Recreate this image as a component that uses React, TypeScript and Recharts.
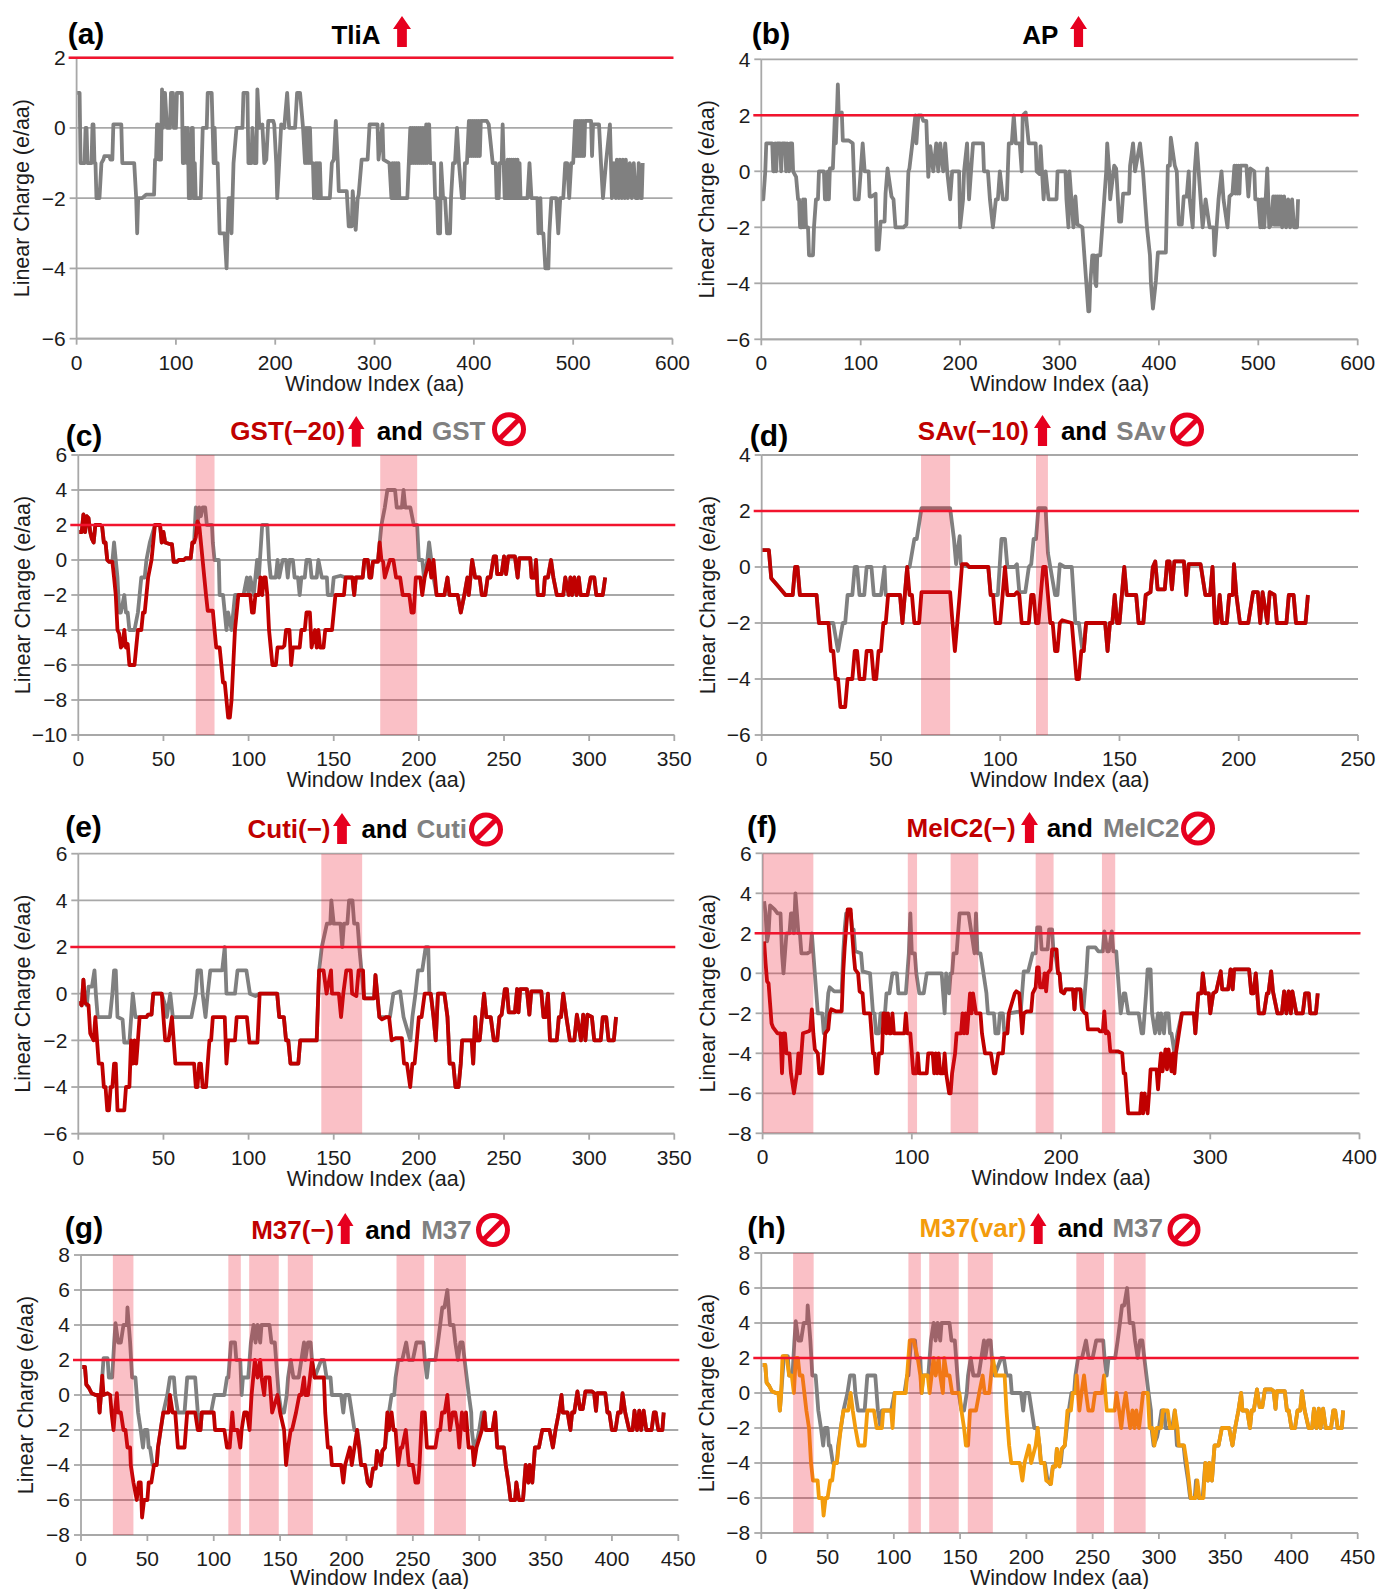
import React from 'react';
import { LineChart, Line, XAxis, YAxis, CartesianGrid, ReferenceLine, ReferenceArea } from 'recharts';

// Vertices: flat lists of x, y, x, y ...
const tliaValues = [0,1, 3,1, 4,-1, 8,-1, 9,0, 10,0, 11,-1, 15,-1, 16,0.1, 17,0.1, 18,-1, 19,-1, 20,-2, 23,-2, 25,-1, 27,-0.9, 28,-0.8, 33,-0.8, 34,-0.9, 36,-0.9, 37,0.1, 45,0.1, 46,-1, 58,-1, 60,-2, 61,-3, 62,-2, 66,-2, 70,-1.9, 78,-1.9, 79,-0.9, 80,-0.9, 81,0.1, 82,0.1, 83,-0.9, 85,-0.9, 86,1.1, 87,0, 88,1, 89,1, 91,0, 94,0, 95,1, 97,1, 98,0, 100,0, 101,1, 106,1, 107,-1, 108,-1, 109,0, 110,0, 111,-1, 112,0, 113,-2, 115,-2, 116,0, 117,0, 118,-2, 119,-1, 120,-2, 125,-2, 127,0, 131,0, 132,1, 136,1, 137,0, 138,-1, 139,0, 140,-1, 142,-1, 144,-3, 149,-3, 151,-4, 152,-3, 153,-2, 155,-2, 156,-3, 158,-1, 161,0, 167,0, 168,1, 172,1, 173,-1, 176,-1, 177,0, 179,-1, 181,-1, 182,1.1, 184,0, 187,0.1, 189,-1, 191,-0.9, 193,0.2, 198,0.2, 199,0.1, 201,-1, 202,-2, 204,-1, 206,0.1, 209,0, 212,1, 214,0, 220,0, 222,1, 225,1, 228,0, 230,-1, 231,0, 232,-1, 233,0, 234,-1, 235,0, 236,-1, 238,-1, 239,-2, 241,-1, 242,-2, 243,-1, 244,-2, 245,-1, 246,-2, 255,-2, 257,-1, 259,-0.9, 261,0.2, 263,-1, 264,-1.8, 272,-1.8, 274,-2.8, 277,-2.8, 278,-1.8, 281,-2.9, 283,-2, 284,-1.9, 287,-0.9, 293,-0.9, 295,0.1, 303,0.1, 304,-0.9, 308,0.1, 309,-0.9, 315,-1, 317,-2, 318,-1, 319,-2, 320,-1, 321,-2, 322,-1, 323,-2, 324,-1, 325,-2, 333,-2, 336,0, 337,-1, 338,0, 339,-1, 340,0, 341,-1, 342,0, 343,-1, 344,0, 345,-1, 346,0, 347,-1, 348,0, 349,-1, 350,0, 351,-1, 352,0.1, 353,-1, 354,0.1, 355,0.1, 356,-1, 360,-1, 361,-2, 363,-2, 364,-3, 366,-3, 367,-1, 369,-2, 371,-2, 373,-3, 376,-3, 377,-2, 379,-1, 381,-1, 383,0, 385,-1, 388,-2, 390,-2, 391,-1, 393,-1, 395,0.2, 396,-0.8, 397,0.2, 398,-0.8, 399,0.2, 400,-0.8, 401,0.2, 402,-0.8, 403,0.2, 404,-0.8, 405,0.2, 406,-0.8, 407,0.2, 413,0.2, 415,0.1, 419,-1, 422,-1, 423,-2, 425,-2, 426,-1, 428,-1, 429,0.1, 431,-2, 432,-1, 433,-2, 434,-0.9, 435,-2, 436,-0.9, 437,-2, 438,-0.9, 439,-2, 440,-0.9, 441,-2, 442,-0.9, 443,-2, 444,-0.9, 445,-2, 446,-1, 447,-2, 454,-2, 456,-1, 458,-2, 464,-2, 465,-3, 467,-2, 468,-3, 470,-3, 472,-4, 475,-4, 476,-3, 478,-2, 483,-2, 485,-3, 487,-2, 490,-2, 492,-1, 494,-1, 496,-2, 498,-1, 500,-1, 502,0.2, 503,-0.8, 504,0.2, 505,-0.8, 506,0.2, 507,-0.8, 508,0.2, 509,-0.8, 510,0.2, 511,-0.8, 512,0.2, 518,0.2, 519,-0.8, 520,0.1, 526,0.1, 528,-1, 530,-2, 533,-1, 537,0.1, 539,-2, 541,-1, 543,-2, 544,-0.9, 546,-2, 547,-0.9, 549,-2, 550,-0.9, 552,-2, 553,-0.9, 555,-2, 557,-1, 559,-2, 561,-1, 563,-2, 565,-2, 566,-1, 568,-2, 569,-2, 570,-1];

const apValues = [0,-1, 2,-1, 4,0, 5,1, 11,1, 12,0, 13,0, 14,1, 15,0, 16,1, 19,1, 20,0, 21,1, 24,1, 25,0, 26,1, 28,0, 29,1, 31,1, 32,0, 35,-0.2, 37,-1, 38,-1, 39,-2, 41,-2, 42,-1, 43,-2, 44,-1, 45,-2, 47,-2, 48,-3, 52,-3, 53,-2, 55,-1, 57,-1, 58,0, 63,0, 64,-1, 66,-1, 67,0, 68,-1, 69,0.1, 72,0.1, 73,1, 74,2, 75,1, 76,2, 77,3.1, 78,2, 81,2.1, 82,1.1, 88,1.1, 92,1, 93,0, 94,-1, 98,-1, 100,0, 101,0.5, 102,1, 104,0, 108,0, 109,-0.9, 111,-0.9, 115,-0.8, 116,-2.8, 118,-2.8, 120,-1.8, 124,-1.8, 125,-0.8, 127,0.1, 131,-0.9, 133,-1, 135,-2, 143,-2, 146,-1.9, 148,0, 149,0.1, 152,1, 155,2, 156,1, 158,2, 161,2, 163,1.8, 166,1.8, 167,0.8, 168,-0.2, 170,0.9, 173,0, 176,1, 178,0, 180,1, 183,0, 185,1, 187,0, 190,-1, 192,0, 199,0, 200,-2, 203,-1, 204,0, 207,1, 209,-1, 211,0, 213,1, 223,1, 224,0, 228,0, 230,-1, 233,-2, 236,-1, 238,-1, 240,0, 243,-1, 247,-1, 249,1, 252,1, 254,2, 256,1, 260,1, 262,0, 263,2, 266,2.1, 269,1, 276,1, 277,0, 280,-0.1, 281,0.9, 284,-1, 286,0, 289,-1, 297,-1, 298,0, 306,0, 307,-1, 309,-2, 310,0, 312,-1, 314,-2, 316,-0.9, 318,-1.9, 323,-2, 325,-3, 327,-4, 329,-5, 330,-5, 331,-4, 333,-3, 335,-3, 336,-4, 337,-4.1, 338,-3, 341,-3, 343,-2, 345,-1, 347,0, 348,1, 350,0, 351,-1, 355,0.2, 357,0.1, 360,-1.8, 362,-1.8, 364,-0.8, 370,-0.8, 371,0.2, 374,1, 376,0, 381,1, 384,0, 386,-1, 388,-2, 391,-3, 392,-4, 394,-4.9, 397,-3.9, 399,-2.9, 407,-2.9, 409,0.2, 411,0.2, 412,1.2, 416,0.2, 418,0, 419,-1, 420,-1.9, 423,-1.9, 425,-0.9, 428,-0.9, 430,0, 431,-1, 434,-2, 436,0, 438,1, 440,0, 442,-1, 444,-2, 447,-1, 451,-2, 455,-2, 456,-3, 458,-2, 460,-1, 463,0, 465,-1, 469,-2, 471,-0.9, 474,-0.8, 476,0.2, 477,-0.8, 478,0.2, 479,-0.8, 480,0.2, 481,-0.8, 482,0.2, 488,0.2, 490,-0.9, 492,0.1, 496,0, 497,-1, 500,-1, 502,-2, 503,-1, 504,-2, 505,-1, 506,-2, 509,0.1, 511,-2, 513,-1.9, 515,-0.9, 516,-1.9, 517,-0.9, 518,-1.9, 519,-0.9, 520,-1.9, 521,-0.9, 522,-1.9, 523,-0.9, 524,-2, 526,-0.9, 528,-2, 530,-1, 532,-2, 534,-1, 536,-2, 539,-2, 540,-1];

const gstHead = [0.5,1.6, 2,1.6, 3,2.6, 4,1.6, 5,2.5, 6,2.4, 7,1.6, 8,1.2, 9,1, 10,2, 13,2, 14,1.9, 15,1, 16,1, 17,0, 18,-0.1, 20,-0.1];
const gstTail = [210.4,-2, 215,-2, 216.8,-1, 218,-2, 222.8,-2, 224.6,-3, 226.7,-2, 228.5,-1, 229.3,-2, 231.3,0, 233,-1, 235.7,-1, 237,-2, 239,-2, 240.4,-1, 242,-1, 244,0.2, 245.3,0.2, 246,-0.8, 248.6,-0.8, 250,0.2, 251.2,-0.8, 252.5,0.2, 256.4,0.2, 258,-1, 259,0.1, 265.4,0.1, 266.2,-1, 268,-1, 268.8,0, 269.8,-2, 273.2,-2, 274,-1, 275.8,-1, 277.6,0, 279,-1, 281,-2, 284.8,-2, 286,-1, 288,-2, 289,-1, 290,-2, 291.3,-1, 292.6,-2, 293.9,-1, 295,-2, 299,-2, 300.9,-1, 303,-1, 304.2,-2, 308,-2, 309.4,-1];
const gst20Mid = [21,-1, 22,-2, 23,-4, 24,-4.2, 25,-5, 26,-4.9, 27,-4, 28,-5, 29,-4.8, 30,-6, 33,-6, 34,-5, 35,-4, 37,-4, 38,-3, 39,-3, 40,-2, 41,-1, 43,0, 44,1, 45,2, 48,2, 49,1, 50,1.6, 51,1, 54,0.9, 55,0.9, 56,-0.1, 58,-0.1, 59,0, 62,0, 63,0.1, 66,0.1, 67,1, 68,1, 69,1.3, 70,2.2, 71,2, 72,1, 73,0, 74,-1, 75,-2, 76,-2.9, 79,-2.9, 80,-4, 81,-5, 83,-5, 84,-6, 85,-7, 86,-7, 87,-8, 88,-9, 89,-9, 90,-8, 91,-6, 92,-4, 93,-3, 94,-2, 101,-2, 102,-3, 103,-3, 104,-2, 106,-2, 107,-1, 108,-2, 109,-1, 110,-1, 111,-2, 112,-4, 113,-5, 114,-6, 116,-6, 117,-5, 120,-5, 121,-4.9, 122,-4, 124,-4, 125,-6, 126,-5, 130,-5, 131,-4, 133,-4, 134,-3, 136,-3, 137,-5, 139,-4, 140,-5, 141,-4, 142,-5, 144,-5, 145,-4, 149,-4, 150,-3, 151,-2, 156,-2, 157,-1, 161,-1, 162,-2, 163,-1, 167,-1, 168,0, 170,0, 171,-1, 172,-1, 173,-0.1, 176,-0.1, 177,1, 178,0, 179,-0.1, 180,-1, 183,0, 185,0, 186.6,-1, 189,-1, 190.5,-2, 194.4,-2, 195.7,-3, 197,-3, 198.2,-1, 200.8,-1, 202,-2, 203.4,-1, 206,0, 207.3,-1, 208.6,0];
const gstMid = [21,1, 22,0, 23,-1, 24,-3, 25,-3, 27,-2, 28,-3, 29,-3, 30,-4, 33,-4, 35,-3, 36,-2, 37,-1, 39,-1, 40,0, 42,1, 45,2, 48,2, 49,1, 50,1.6, 51,1, 54,0.9, 55,0.9, 56,-0.1, 58,-0.1, 59,0, 62,0, 63,0.1, 66,0.1, 67,1, 68,1, 69,3, 70,2, 71,3, 72,2.5, 73,3, 74.5,3, 75.5,2, 78.5,2, 79,1, 80,0, 82.5,0, 83,-2, 85,-2, 86,-3, 87,-4, 88,-3, 90,-4, 91,-3, 92,-2, 97,-2, 99,-1, 100,-2, 101,-1, 103,-2, 105,0, 106,-1, 108,2, 111,2, 112,0, 113,-1, 116,-1, 117,0, 118,-1, 120,0, 122,0, 123,-1, 124,0, 126,0, 127,-1, 129,-1, 130,-2, 131,-1, 133,-1, 134,0, 136,0, 137,-1, 140,-1, 141,0, 143,-1, 146,-1, 146.5,-2, 149,-2, 150,-1, 154,-0.9, 157,-1, 161,-1, 162,-2, 163,-1, 167,-1, 168,0, 170,0, 171,-1, 172,-1, 173,-0.1, 176,0, 178,2, 180,3, 181.5,4, 186,4, 187,3, 190,3, 191,4, 192,3, 195,3, 197,2, 199,2, 200,0, 202,0, 203,-1, 205,0, 206,1, 207.3,0, 208.6,-1];

const savHead = [0,0.6, 3,0.6, 4,-0.4, 5,-0.5, 7,-0.7, 10,-1, 13,-1, 14,0, 15,0, 16,-1, 23,-1, 24,-2, 28,-2];
const savTail = [136,-2, 144,-2, 145,-3, 146,-2, 147,-2, 148,-1, 149,-2, 150,-2, 151,-1, 152,0, 153,-1, 157,-1, 158,-2, 160,-2, 161,-1, 163,-0.9, 164,0, 165,0.2, 166,-0.8, 169,-0.8, 170,0.2, 171,0.2, 172,-0.8, 173,0.2, 177,0.2, 178,-1, 179,0.1, 184,0.1, 186,-1, 188,-1, 189,0, 190,-2, 191,-2, 192,-1, 193,-2, 195,-2, 196,-1, 197.5,-1, 198,0.1, 199,-1, 200.5,-2, 204,-2, 206,-0.9, 208,-0.9, 209,-2, 210,-0.9, 212,-2, 213,-0.9, 215,-1, 216,-2, 220,-2, 221,-1, 223,-1, 224,-2, 228,-2, 229,-1];
const sav10Mid = [29,-3, 30,-3, 31,-4, 32,-4, 33,-5, 35,-5, 36,-4, 38,-4, 39,-3, 40,-3, 41,-4, 43,-4, 44,-3, 46,-3, 47,-4, 48,-4, 49,-3, 50,-3, 51,-2, 52,-2, 53,-1, 58,-1, 59,-2, 60,-1, 61,0, 62,-1, 63,-1, 64,-2, 66,-2, 67,-0.9, 79,-0.9, 80,-2, 81,-3, 82,-2, 83,-1, 84,0.1, 86,0.1, 87,0, 95,0, 96,-1, 97,-1, 98,-2, 100,-2, 101,-1, 102,0, 103,-1, 106,-1, 107,-0.9, 108,-1, 109,-2, 112,-2, 113,-1, 114,-1, 115,-2, 116,-2, 117,-1, 118,0, 119,0, 120,-1, 121,-2, 122,-2, 123,-3, 124,-3, 125,-2, 126,-1.9, 130,-2, 131,-3, 132,-4, 133,-4, 134,-3, 135,-3];
const savMid = [30,-2, 32,-3, 34,-2, 35,-2, 36,-1, 38,-1, 39,0, 40,0, 41,-1, 43,-1, 44,0, 46,0, 47,-1, 50,-1, 51.5,0, 52,-1, 58,-1, 59,-2, 60,-1, 61,0, 62,0, 64,1, 65,1, 67,2.1, 79,2.1, 80.6,1, 81.5,0.1, 82,0.5, 83,1.1, 83.5,0.1, 87,0, 95,0, 96,-1, 99,-1, 100.5,1, 102,1, 103,0, 106,0, 107,0.1, 108,-0.9, 110.5,-0.9, 112,0, 113,0.1, 114,1, 115,1, 116,2.1, 119,2.1, 120,0.5, 121,0, 122,-0.5, 123,-1, 124,-1, 125,0.1, 127,0, 130,0, 131.5,-2, 133,-2, 134.5,-3, 135,-3];

const cutiHead = [0,-0.4, 1,-0.4, 2,-0.5, 3,0.6, 4,-0.4];
const cutiTail = [207,0, 208.6,-1, 209.9,-2, 211.2,0, 215,0, 216.8,-1, 218.1,-3, 220.2,-3, 221.5,-4, 223.3,-4, 224.6,-3, 225.4,-2, 231,-2, 231.9,-3, 233.1,-1, 233.9,-2, 235.7,-2, 238.3,0, 239.6,-1, 242.2,-1, 244,-2, 246,-2, 247.3,-1, 248.6,-0.9, 250.5,0.2, 251.7,0.2, 252.8,-0.8, 256.4,-0.8, 257.7,0.2, 258.5,-0.8, 259.5,0.2, 263.4,0.2, 264.9,-0.9, 266,0.1, 271.9,0.1, 273.2,-1, 274.5,-1, 275.8,0, 277,-2, 281,-2, 282.2,-1, 283.5,-1, 284.8,0, 286.6,-1, 288.7,-2, 291.3,-2, 292.8,-0.9, 295.2,-2, 296.5,-0.9, 297.8,-2, 299,-0.9, 301.6,-1, 303,-2, 306.8,-2, 308,-1, 310,-1, 311.4,-2, 314.5,-2, 315.8,-1];
const cutiMinusMid = [6,-0.5, 7,-1.7, 9,-2, 10,-1, 11,-2, 12,-3, 14,-3, 15,-4, 16,-4, 17,-5, 18,-5, 19,-4, 20,-4, 21,-3, 22,-3, 23,-5, 27,-5, 28,-4, 30,-4, 31,-2, 32,-3, 33,-2, 34,-3, 35,-2, 36,-1, 40,-1, 41,-0.9, 43,-0.9, 44,0, 49,0, 50,-1, 51,-2, 53,-2, 55,-1, 56,-2, 57,-3, 68,-3, 69,-4, 70,-4, 71,-3, 72,-3, 73,-4, 75,-4, 76,-3, 77,-2, 78,-2, 79,-1, 86,-1, 87,-3, 88,-2, 92,-2, 93,-1, 99,-1, 100.5,-2.1, 105.2,-2.1, 106.5,0, 116.8,0, 118,-1, 120.7,-1, 122,-2, 123.3,-2, 124.6,-3, 129.2,-3, 130.3,-2, 140,-2, 141.4,1, 144,1, 145.8,0, 148.4,1, 149,0, 153,0, 154.3,-1, 155.6,0, 157.4,1, 160,1, 160.8,0, 163.3,-0.1, 164.6,1, 167.2,1, 167.8,-0.2, 173.7,-0.2, 174.5,0.8, 175.8,-0.2, 176.8,-1, 178.3,-1.1, 181,-1, 182.5,-1, 184,-2, 186.6,-1.9, 190,-1.9, 191.3,-3, 193,-3, 194.9,-4, 196.2,-3, 197.5,-3, 198.8,-2, 200,-1, 201.6,-1, 203.4,0];
const cutiMid = [5,-0.5, 6,0.3, 8,0.3, 9.5,1, 10.3,0, 11.4,-1, 18.6,-1, 20,0, 21,1, 22,1, 23,-1, 26,-1.1, 27,-2.1, 30,-2.1, 32,0, 33.5,-1, 40,-1, 41,-0.9, 43,-0.9, 44,0, 49,0, 51,-0.5, 52,-1, 54,0, 55.5,-1, 66.4,-1, 69,0, 70,1, 72,1, 73,0, 74.7,-1, 76,0, 77.5,1, 84.5,1, 86,2, 87,0, 92,0, 93.5,1, 98.7,1, 100.8,0, 104,-0.1, 106.5,0, 116.8,0, 118,-1, 120.7,-1, 122,-2, 123.3,-2, 124.6,-3, 129.2,-3, 130.3,-2, 140,-2, 141.4,1, 143,2, 146,3, 148,3, 148.6,4, 150,3, 154,3, 155,2, 156,3, 158,3, 159,4, 161,4, 162,3, 164,3, 165,2, 167.8,-0.2, 173.7,-0.2, 174.5,0.8, 175.8,-0.2, 176.8,-1, 183,-1, 185,0, 189,0.1, 191,-1, 195,-2, 196.2,-1, 198,0, 199.5,1, 202,1, 204,2, 205.5,2, 206.2,0];

const melcHead: number[] = [];
const melcTail = [281,-2, 289,-2, 290,-3, 291,-2, 292,-1, 294,-1, 295,0, 296.5,-1, 299,-1, 300,-2, 302,-1, 304,-0.9, 307,0.1, 308,-0.8, 312,-0.8, 313.6,0.2, 315,-0.8, 316,0.2, 326,0.2, 327.5,-1, 329,-1, 330.5,0, 332.5,-2, 336,-2, 338,-1, 339,-1, 340.8,0.1, 342,-0.9, 345,-2, 348,-2, 349.5,-0.9, 351,-2, 352.5,-0.9, 354,-2, 355,-0.9, 357.7,-2, 362,-2, 363.6,-1, 366,-1, 367,-2, 370.8,-2, 372,-1];
const melcMinusMid = [1,1.6, 2,0.5, 3,-0.4, 4,-0.5, 5,-1.5, 6,-2.5, 7,-2.7, 10,-3, 12,-3, 13,-5, 14,-3, 15,-3, 16,-4, 18,-4, 19,-5, 21,-6, 23,-5, 24,-4, 25,-5, 26,-4, 27,-3, 31,-2.9, 32,-2.8, 33,-1.8, 34,-3, 35,-3.8, 37,-4, 38,-5, 40,-5, 41,-4, 42,-3, 44,-2.8, 45,-2, 46,-1.8, 49,-1.9, 53,-1.9, 54,0, 55,1.3, 57,3.2, 59,3.2, 60,2, 61,1, 62,0.2, 64,0, 65,-0.9, 67,-1, 68,-2, 72,-2, 73,-3, 74,-4, 75,-4, 76,-5, 77,-5, 78,-4, 80,-4, 81,-2, 82,-2, 83,-3, 84,-2, 85,-3, 86,-3, 87,-2, 88,-3, 95,-3, 96,-2, 97,-3, 99,-3, 100,-4, 101,-5, 103,-5, 104,-4, 105,-5, 110,-5, 111,-4, 114,-4, 115,-5, 116,-4, 117,-5, 118,-4, 119,-5, 121,-5, 122,-4, 123,-5, 125,-6, 126,-6, 127,-5, 129,-4, 130,-3, 133,-3, 134,-2, 135,-3, 136,-2, 137,-3, 138,-2, 139,-1, 140,-2, 141,-1, 143,-2, 146,-2, 147,-3, 149,-4, 153,-4, 155,-5, 156,-5, 158,-4, 161,-4, 162,-3, 164,-3, 165,-2, 169,-1, 170,-0.9, 172,-1, 173,-2, 174,-3, 175,-2, 177,-1.9, 180,-1.9, 181,-1, 183,-0.7, 184,0.3, 185,0.3, 186,-0.7, 188,-0.7, 189,0, 190,-0.9, 191,0, 193,0.2, 194,1.2, 197,1.2, 198,0, 199,0, 200,-0.9, 202,-1, 203,-0.8, 208,-0.8, 209,-1.8, 210,-0.8, 213,-0.8, 214,-1.8, 216,-2, 217,-2, 218,-2.8, 225,-2.8, 226,-2.9, 228,-2.9, 229,-1.9, 230,-3, 231,-2.9, 232,-3, 233,-3.9, 238,-3.9, 241,-4, 242,-5, 243,-5, 244,-6, 245,-7, 253,-7, 254,-6, 255,-7, 256,-6, 258,-7, 259,-6, 260,-4.8, 264,-4.8, 265,-5.8, 266,-4.8, 267,-4, 268,-4.9, 270,-3.8, 271,-4.8, 272,-3.8, 274,-4.9, 275,-4, 276,-5, 277,-4, 279,-3];
const melcMid = [1,3.6, 2,3, 3,1.6, 4,2, 5,3.4, 8,3.2, 10,3, 12,3, 13,1, 14,0, 15,1, 16,2, 18,2, 19,3, 20,3, 21,2, 22,4, 23,3, 24,2, 25,2, 26,1, 30,1, 32,1.1, 33,2, 34,1, 35,0, 36,-1, 37,-2, 40,-2, 41,-3, 42,-3, 43,-2, 44,-1, 45,-0.7, 48,-0.9, 53,-0.9, 54,1, 55,2.2, 56,3, 59,3, 60,2.2, 61,2.2, 62,1.1, 66,1, 67,0.1, 72,0, 73,-1, 74,-2, 75,-2, 76,-3, 78,-3, 79,-2, 82,-2, 83,-1, 85,-1, 87,0, 90,0, 91,-1, 96,-1, 97,0, 98,1, 99,3, 100,1, 102,1, 103,0, 105,-1, 108,-1, 110,0, 120,0, 121,-1, 122,-2, 123,0, 125,-1, 126,0, 127,0, 128,1, 130,1, 131,2, 132,3, 138,3, 140,2, 142,1, 143,3, 144,1, 146,1, 148,0, 150,-1, 151,-2, 155,-2, 156,-3, 158,-3, 159,-2, 161,-2, 162,-3, 164,-3, 165,-2, 173,-1.9, 175,0.1, 178,0.1, 181,1, 183,1, 184,2.3, 186,2.3, 187,1.2, 191,1.2, 192,2.2, 194,2.2, 195,1, 196.5,0.8, 198,0, 199,0, 200,-0.9, 202,-1, 203,-0.8, 208,-0.8, 209,-1.8, 210,-0.8, 213,-0.8, 214,-1.8, 215,-1.8, 217,0, 218,1.3, 223,1.3, 225,1.1, 228,1.1, 229,2.1, 231,1.1, 232,1.1, 234,2.1, 235,1.1, 237,1.1, 238,0, 239,-1, 240,-2, 242,-1, 243,-1, 245,-2, 252,-2, 254,-3, 255,-3, 257,-1, 258,0.2, 260,0.2, 261,-2, 263,-3, 265,-2, 266,-3, 267,-2, 269,-3, 270,-2, 272,-2, 273,-3, 274,-3, 276,-4, 278,-3];

const m37Head = [1,1.6, 3,1.6, 4,0.6, 6,0.4, 8,0.1, 11,0, 13,0, 14,-1, 15,0];
const m37Tail = [335,-4, 337,-5, 338,-4, 340,-5, 342,-3, 345,-3, 347.5,-2, 353,-2, 355.5,-3, 357.5,-2, 360,-1, 362,0, 363,-1, 366.6,-1, 368.7,-2, 370,-1, 371.6,-1, 374,0.2, 376,-0.8, 378,-0.8, 380,0.2, 382,0.2, 385,0.2, 386.6,0.1, 388,-0.9, 389,0.1, 395,0.1, 396.6,-1, 398,-1, 400,-2, 402.7,-2, 404.6,-1, 406.6,-1, 408,0.1, 410,-1, 413,-2, 415.6,-2, 417,-0.9, 418.9,-2, 420.6,-0.9, 422,-2, 423.9,-0.9, 425.9,-2, 429.9,-2, 431.6,-1, 433,-1, 434.9,-2, 438,-2, 439,-1];
const m37MinusMid = [16,1.1, 17,0, 20,0.1, 22,0, 23,-1, 24.5,-2, 25.5,-1, 27,0.1, 28,-1, 30,-1, 32,-2, 33.5,-2, 35,-3, 37,-3, 37.5,-4, 39.5,-5, 42,-6, 43.5,-5, 45,-5, 46,-7, 47.5,-6, 50,-6, 51,-5, 53,-5, 55,-4, 57,-4, 58,-3, 60,-2, 62,-1, 66,-1, 67,0, 69,-1, 71,-1, 73,-3, 78,-3, 80,-1, 86,-1, 88,-2, 90,-2, 91,-1, 100,-1, 101,-2, 108,-2, 110,-3, 112,-3, 114,-1, 115,-2, 118,-2, 120,-3, 121,-2, 123,-1, 125,-1, 127,-2, 128.5,0, 131,2, 133,1, 135,2, 136,1, 138,0, 139,1, 142,1, 144,-1, 148,0, 150,-1, 153,-2, 154.5,-4, 156,-3, 158,-2, 159,-2, 162,-1, 164.5,0, 166,0, 168,1, 169,0, 171,0, 174,2, 176,1, 183,1, 184,-1, 186,-3, 188,-3, 189,-4, 196,-4, 197.6,-5, 199,-4, 202.6,-3, 204,-4, 206,-3, 208,-2, 211,-4, 214,-4, 216,-5, 218,-5.2, 220,-4.2, 222,-4.2, 223,-3.2, 226,-4, 227,-3.2, 229,-3, 230.8,-1, 232,-2, 234,-1, 235.5,-2, 237,-2, 239,-4, 241,-3, 242,-3, 244.7,-2, 247,-4, 250,-4, 252,-5, 254,-5, 255,-4, 257,-1, 259,-1, 260.6,-3, 267,-3, 269,-2, 270.6,-2, 272,-1, 274,-1, 276,0, 278,-2, 280,-1, 282,-1, 284,-2, 285,-3, 287,-1, 289,-2, 290,-1, 292,-3, 295,-3, 296,-4, 298,-3, 302,-2, 304,-1, 305,-2, 310,-2, 312,-1, 313.6,-3, 318.6,-3, 320,-4, 322,-5, 323.6,-6, 327,-6, 328,-5, 330,-6, 333,-6];
const m37Mid = [16,1, 17,2.1, 20,2.1, 21,1, 23.5,1, 25,3, 26,4.1, 28,3, 30,3, 32,4, 34.5,4, 35,5, 36,4, 37,3, 38.5,1, 41,1, 42,0, 43,-1, 45,-2, 46.7,-3, 48,-2, 50,-2, 51,-3, 52,-3, 54,-4, 57,-4, 58,-3, 60,-2, 62,-1, 65,0, 67,1, 70,1, 71,0, 73,-1, 78,-1, 80,1, 86,1, 88,-1, 90,-2, 91,-1, 98,-1, 100.5,0, 108,0, 110,1, 111,1, 113,3, 116,3, 117,2, 120,2, 121,0, 122,1, 126,1, 128,3, 130,4, 131.5,3, 133,4, 135,3, 136,4, 142,4, 143.5,3, 146,3, 148,1, 149,0, 151,-1, 153,-1, 155,0, 156,1, 158,2, 160,1, 164,1, 166,2, 168,3, 169,2, 171,3, 173,3, 174,2, 176,1, 181,2, 183,2, 185,1, 188,1, 189,0, 196,0, 197.6,-1, 199,0, 202,0, 204,-1, 206,-2, 208,-2, 210,-3, 211,-4, 214,-4, 216,-5, 218,-5.2, 220,-4.2, 222,-4.2, 223,-3.2, 226,-4, 227,-3.2, 229,-3, 232,-1, 234,0, 236,0, 237,1, 239,2, 242,2, 245,3, 247,2, 250,2, 252.7,3, 258,3, 259,2, 260.6,1, 262,2, 267,2, 268.9,3, 270.6,4, 272.2,5, 273.8,5, 276,6, 278,4, 280.6,4, 282,3, 284,2, 285.8,3, 287.5,3, 289,2, 290.6,1, 292.2,0, 294,-1, 294.4,-2, 296,-3, 298.7,-2.5, 300,-2, 302,-1, 304,-1, 305,-2, 310,-2, 312,-1, 313.6,-3, 318.6,-3, 320,-4, 322,-5, 323.6,-6, 327,-6, 328,-5, 330,-6, 333,-6];
const m37VarMid = [16,2.1, 19,2.1, 21,1, 23,1, 24.6,0, 26,2, 27.6,2, 29,1, 31,1, 32.5,0, 34,-1, 36,-2, 37.5,-4, 39,-5, 42.5,-5, 43.5,-6, 46,-6, 47,-7, 48.5,-6, 50,-6, 52,-5, 53.5,-5, 55,-4, 57,-4, 58.5,-3, 60,-2, 62,-1, 65.6,-1, 67.4,0, 69,-1, 71,-2, 73.4,-3, 78,-3, 80,-1, 85,-1, 87,-2, 91,-2, 92,-1, 98,-1, 99,-2, 100.6,0, 109,0, 110,1, 112,3, 115,3, 118,2, 120,1, 121,0, 122.5,1, 125.6,1, 127,0, 128.5,1, 130,2, 131.6,1, 133.8,2, 135,1, 137,0, 138,2, 140,1, 142,1, 144,0, 149.5,0, 151,-1, 153,-2, 154.4,-3, 156,-3, 157.5,-1, 162,-1, 164.4,0, 167,1, 168.5,0, 172,0, 174.7,2, 177,1, 183.6,1, 185,-1, 187,-3, 188.6,-4, 195,-4, 197,-5, 198.6,-4, 202,-3, 203.6,-4, 207,-3, 208.6,-2, 211,-4, 213.6,-4, 215,-5, 218.6,-5.2, 220,-4.2, 222,-4.2, 223,-3.2, 225,-4.2, 226.6,-3.2, 229,-3, 231,-1, 233.6,-1, 235,0, 237,0, 238,1, 240,-1, 241.6,0, 243.5,1, 245,0, 246.8,-1, 250,-1, 251.8,0, 257,0, 258.6,1, 260.6,-1, 266.6,-1, 268,0, 270,-1, 271.6,-2, 273,-1, 275,0, 276.6,-1, 278.3,-2, 280,-1, 281.6,-2, 283,-1, 285,-2, 286.6,-1, 288,0, 291.6,0, 293,-2, 295,-2, 296.6,-3, 298.3,-2, 301.6,-2, 303,-1, 306.6,-1, 308.3,-2, 311,-2, 312,-1, 314,-2, 315,-3, 319,-3, 321,-4, 322.6,-5, 324,-6, 327.6,-6, 329,-5, 330.6,-6, 333.6,-6];

const toPoints = (...lists: number[][]) => {
  const flat = lists.flat();
  const out: { x: number; y: number }[] = [];
  for (let i = 0; i < flat.length; i += 2) out.push({ x: flat[i], y: flat[i + 1] });
  return out;
};

const GREY = '#808080';
const DARK_RED = '#c00000';
const AMBER = '#f39c0c';
const THRESH = '#f2142e';
const ICON = '#e6001f';
const GRID = '#a8a8a8';
const INK = '#1c1c1c';
const FONT = '"Liberation Sans", Arial, sans-serif';

const range = (a: number, b: number, s: number) => {
  const t: number[] = [];
  for (let v = a; v <= b + 1e-9; v += s) t.push(v);
  return t;
};

type Seg = { t: string; c: string; x1: number; x2: number };
type Panel = {
  col: number; top: number; pl: number; pr: number; pt: number; pb: number; labelX: number;
  xMax: number; xStep: number; yMin: number; yMax: number;
  areas: number[][]; series: { pts: { x: number; y: number }[]; color: string }[];
  tag: string; tagX: number; tagY: number; titleY: number; segs: Seg[];
  arrow: number[]; noSign?: number[];
};

const m37Areas = [[24, 39.5], [111, 120.4], [126.7, 149], [155.8, 174.7], [237.7, 258.6], [266, 290]];

const panels: Panel[] = [
  { col: 0, top: 0, pl: 76.6, pr: 672.5, pt: 57.7, pb: 338.7, labelX: 21.5, xMax: 600, xStep: 100, yMin: -6, yMax: 2, areas: [],
    series: [{ pts: toPoints(tliaValues), color: GREY }],
    tag: '(a)', tagX: 86, tagY: 33, titleY: 35, segs: [{ t: 'TliA', c: '#000', x1: 331, x2: 381 }], arrow: [393, 411, 16, 47] },
  { col: 690, top: 0, pl: 761.3, pr: 1357.7, pt: 59.3, pb: 339.3, labelX: 706, xMax: 600, xStep: 100, yMin: -6, yMax: 4, areas: [],
    series: [{ pts: toPoints(apValues), color: GREY }],
    tag: '(b)', tagX: 771, tagY: 33, titleY: 35, segs: [{ t: 'AP', c: '#000', x1: 1023, x2: 1057.5 }], arrow: [1070, 1087, 16, 47] },
  { col: 0, top: 400, pl: 78.3, pr: 674.3, pt: 455, pb: 735, labelX: 22.5, xMax: 350, xStep: 50, yMin: -10, yMax: 6, areas: [[69, 80], [177.3, 199]],
    series: [{ pts: toPoints(gstHead, gstMid, gstTail), color: GREY }, { pts: toPoints(gstHead, gst20Mid, gstTail), color: DARK_RED }],
    tag: '(c)', tagX: 84, tagY: 435, titleY: 431, segs: [{ t: 'GST(−20)', c: DARK_RED, x1: 230, x2: 345.5 }, { t: 'and', c: '#000', x1: 377, x2: 422.5 }, { t: 'GST', c: GREY, x1: 432, x2: 485.5 }], arrow: [348, 364.5, 416, 446.7], noSign: [492, 526, 412.7, 446] },
  { col: 690, top: 400, pl: 761.7, pr: 1358, pt: 455, pb: 735, labelX: 707, xMax: 250, xStep: 50, yMin: -6, yMax: 4, areas: [[66.8, 79], [115, 120]],
    series: [{ pts: toPoints(savHead, savMid, savTail), color: GREY }, { pts: toPoints(savHead, sav10Mid, savTail), color: DARK_RED }],
    tag: '(d)', tagX: 769, tagY: 435, titleY: 431, segs: [{ t: 'SAv(−10)', c: DARK_RED, x1: 916.7, x2: 1030 }, { t: 'and', c: '#000', x1: 1061, x2: 1107 }, { t: 'SAv', c: GREY, x1: 1116, x2: 1166 }], arrow: [1034, 1051, 415, 446], noSign: [1170, 1204, 413, 446] },
  { col: 0, top: 800, pl: 78.3, pr: 674.3, pt: 853.7, pb: 1133.7, labelX: 22.5, xMax: 350, xStep: 50, yMin: -6, yMax: 6, areas: [[142.7, 166.7]],
    series: [{ pts: toPoints(cutiHead, cutiMid, cutiTail), color: GREY }, { pts: toPoints(cutiHead, cutiMinusMid, cutiTail), color: DARK_RED }],
    tag: '(e)', tagX: 83.5, tagY: 826, titleY: 829, segs: [{ t: 'Cuti(−)', c: DARK_RED, x1: 248, x2: 330 }, { t: 'and', c: '#000', x1: 362, x2: 407 }, { t: 'Cuti', c: GREY, x1: 417, x2: 466.5 }], arrow: [333, 351, 813, 844], noSign: [469, 503, 813, 846] },
  { col: 690, top: 800, pl: 762.6, pr: 1359.5, pt: 853.3, pb: 1133.3, labelX: 707, xMax: 400, xStep: 100, yMin: -8, yMax: 6, areas: [[0, 34], [97.3, 103.5], [126, 144.5], [183, 195], [227.4, 236.3]],
    series: [{ pts: toPoints(melcHead, melcMid, melcTail), color: GREY }, { pts: toPoints(melcHead, melcMinusMid, melcTail), color: DARK_RED }],
    tag: '(f)', tagX: 762, tagY: 826, titleY: 828, segs: [{ t: 'MelC2(−)', c: DARK_RED, x1: 905.7, x2: 1016.6 }, { t: 'and', c: '#000', x1: 1046.5, x2: 1093 }, { t: 'MelC2', c: GREY, x1: 1103, x2: 1179.5 }], arrow: [1021, 1038, 812, 843], noSign: [1181, 1215, 812, 845] },
  { col: 0, top: 1195, pl: 81, pr: 678.3, pt: 1255, pb: 1535, labelX: 25.5, xMax: 450, xStep: 50, yMin: -8, yMax: 8, areas: m37Areas,
    series: [{ pts: toPoints(m37Head, m37Mid, m37Tail), color: GREY }, { pts: toPoints(m37Head, m37MinusMid, m37Tail), color: DARK_RED }],
    tag: '(g)', tagX: 84, tagY: 1227, titleY: 1230, segs: [{ t: 'M37(−)', c: DARK_RED, x1: 251, x2: 334.5 }, { t: 'and', c: '#000', x1: 365, x2: 411.5 }, { t: 'M37', c: GREY, x1: 421, x2: 472 }], arrow: [337, 353.5, 1213, 1244], noSign: [476, 510, 1213, 1247] },
  { col: 690, top: 1195, pl: 761.3, pr: 1357.7, pt: 1253, pb: 1533, labelX: 706, xMax: 450, xStep: 50, yMin: -8, yMax: 8, areas: m37Areas,
    series: [{ pts: toPoints(m37Head, m37Mid, m37Tail), color: GREY }, { pts: toPoints(m37Head, m37VarMid, m37Tail), color: AMBER }],
    tag: '(h)', tagX: 766.5, tagY: 1227, titleY: 1228, segs: [{ t: 'M37(var)', c: AMBER, x1: 918, x2: 1028 }, { t: 'and', c: '#000', x1: 1057.5, x2: 1104 }, { t: 'M37', c: GREY, x1: 1112.5, x2: 1163 }], arrow: [1030, 1046.5, 1213, 1244], noSign: [1167.5, 1200.5, 1213, 1247] },
];

const fmt = (v: number) => (v < 0 ? `−${Math.abs(v)}` : `${v}`);

const ThresholdShape = (p: any) => (
  <line x1={p.x1 - 8} x2={p.x2 + 1} y1={p.y1} y2={p.y2} stroke={THRESH} strokeWidth={2.6} />
);

function PanelChart({ p }: { p: Panel }) {
  const H = Math.min(p.pb - p.top + 62, 1589 - p.top);
  const W = p.col === 0 ? 704 : 690;
  const axisH = H - (p.pb - p.top);
  const labelOffset = Math.max(axisH - 52, 4);
  const marginRight = W - (p.pr - p.col);
  const yDomain: [number, number] = [p.yMin, p.yMax];
  const xDomain: [number, number] = [0, p.xMax];
  const box: React.CSSProperties = { position: 'absolute', left: p.col, top: p.top, width: W, height: H };
  return (
    <>
      <div style={box}>
        <LineChart width={W} height={H} margin={{ top: p.pt - p.top, right: marginRight, bottom: 0, left: 0 }}>
          <CartesianGrid vertical={false} stroke={GRID} strokeWidth={1.8} />
          <XAxis
            type="number" dataKey="x" domain={xDomain} ticks={range(0, p.xMax, p.xStep)} interval={0} height={axisH}
            axisLine={{ stroke: GRID, strokeWidth: 1.8 }} tickLine={{ stroke: GRID, strokeWidth: 1.8 }} tickSize={6} tickMargin={10}
            tick={{ fontSize: 21, fill: INK, fontFamily: FONT }} allowDataOverflow
            label={{ value: 'Window Index (aa)', position: 'insideBottom', offset: labelOffset, style: { fontSize: 21.5, fill: INK, fontFamily: FONT } }}
          />
          <YAxis
            type="number" dataKey="y" domain={yDomain} ticks={range(p.yMin, p.yMax, 2)} interval={0} width={p.pl - p.col}
            axisLine={{ stroke: GRID, strokeWidth: 1.8 }} tickLine={{ stroke: GRID, strokeWidth: 1.8 }} tickSize={7} tickMargin={4}
            tick={{ fontSize: 21, fill: INK, fontFamily: FONT }} tickFormatter={fmt} allowDataOverflow
            label={{ value: 'Linear Charge (e/aa)', angle: -90, position: 'insideLeft', offset: p.labelX - p.col, style: { fontSize: 21.5, fill: INK, fontFamily: FONT, textAnchor: 'middle' } }}
          />
          {p.series.map((s, i) => (
            <Line key={i} data={s.pts} dataKey="y" type="linear" dot={false} activeDot={false} stroke={s.color} strokeWidth={3.8} strokeLinejoin="round" isAnimationActive={false} legendType="none" />
          ))}
        </LineChart>
      </div>
      <div style={{ ...box, pointerEvents: 'none' }}>
        <LineChart width={W} height={H} margin={{ top: p.pt - p.top, right: marginRight, bottom: axisH, left: p.pl - p.col }}>
          <XAxis hide type="number" dataKey="x" domain={xDomain} allowDataOverflow />
          <YAxis hide type="number" dataKey="y" domain={yDomain} allowDataOverflow />
          {p.areas.map((a, i) => (
            <ReferenceArea key={i} x1={a[0]} x2={a[1]} y1={p.yMin} y2={p.yMax} fill="#ec1c32" fillOpacity={0.28} stroke="none" ifOverflow="hidden" />
          ))}
          <ReferenceLine y={2} shape={ThresholdShape} ifOverflow="visible" />
        </LineChart>
      </div>
    </>
  );
}

function Arrow({ b }: { b: number[] }) {
  const [x1, x2, y1, y2] = b;
  const w = x2 - x1;
  const m = (x1 + x2) / 2;
  const sh = w * 0.27;
  const hy = y1 + (y2 - y1) * 0.42;
  return <polygon fill={ICON} points={`${m},${y1} ${x2},${hy} ${m + sh},${hy} ${m + sh},${y2} ${m - sh},${y2} ${m - sh},${hy} ${x1},${hy}`} />;
}

function NoSign({ b }: { b: number[] }) {
  const [x1, x2, y1, y2] = b;
  const cx = (x1 + x2) / 2;
  const cy = (y1 + y2) / 2;
  const r = (x2 - x1) / 2 - 2.5;
  const d = r * 0.707;
  return (
    <g fill="none" stroke={ICON} strokeWidth={5}>
      <circle cx={cx} cy={cy} r={r} />
      <line x1={cx - d} y1={cy + d} x2={cx + d} y2={cy - d} />
    </g>
  );
}

export default function App() {
  return (
    <div style={{ position: 'absolute', left: 0, top: 0, width: 1380, height: 1589, overflow: 'hidden', background: '#fff' }}>
      {panels.map((p) => <PanelChart key={p.tag} p={p} />)}
      <svg width={1380} height={1589} style={{ position: 'absolute', left: 0, top: 0, pointerEvents: 'none' }}>
        {panels.map((p) => (
          <g key={p.tag} fontFamily={FONT} fontWeight="bold">
            <text x={p.tagX} y={p.tagY} fontSize={30} textAnchor="middle" dominantBaseline="central" fill="#000">{p.tag}</text>
            {p.segs.map((s) => (
              <text key={s.t} x={(s.x1 + s.x2) / 2} y={p.titleY} fontSize={26} textAnchor="middle" dominantBaseline="central" fill={s.c}>{s.t}</text>
            ))}
            <Arrow b={p.arrow} />
            {p.noSign && <NoSign b={p.noSign} />}
          </g>
        ))}
      </svg>
    </div>
  );
}
